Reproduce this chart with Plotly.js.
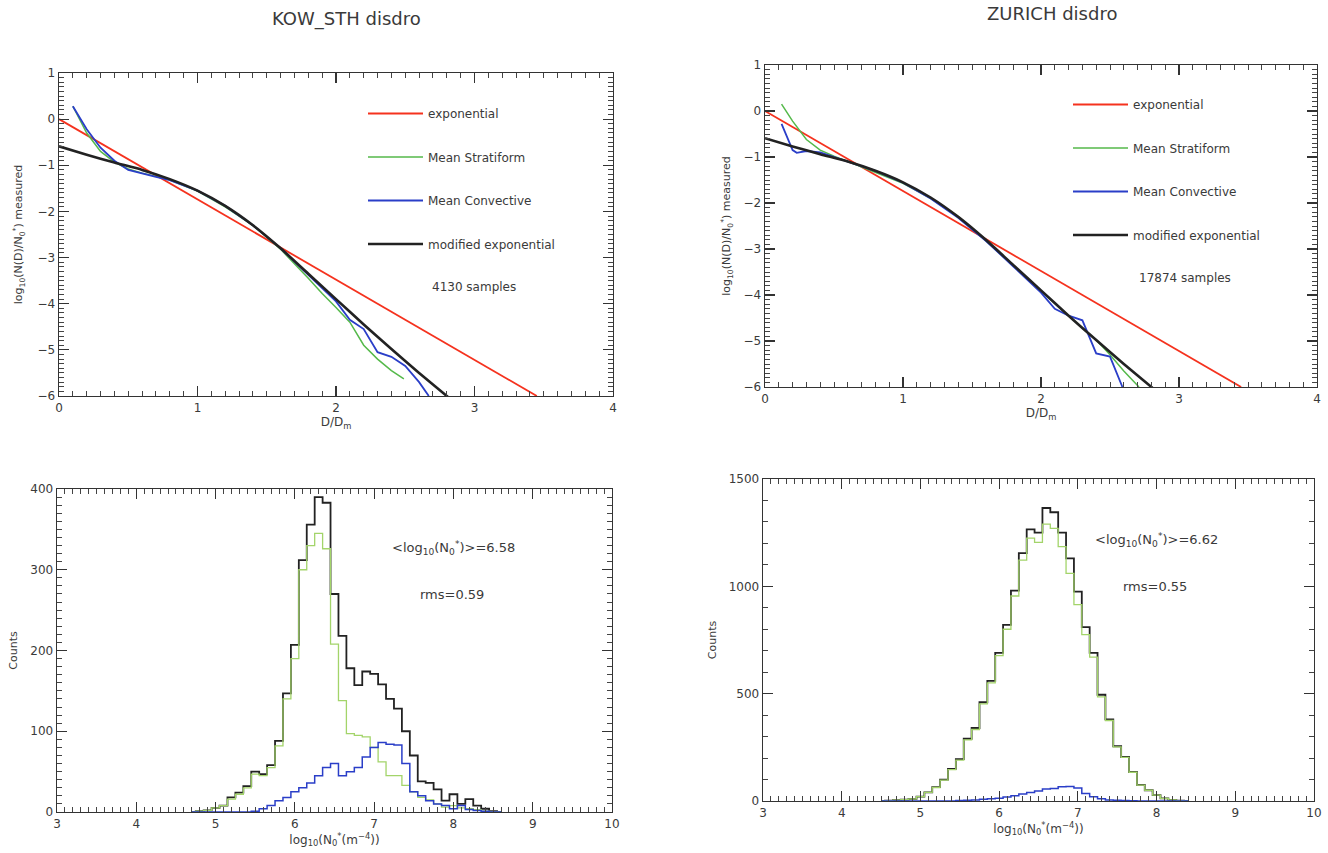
<!DOCTYPE html>
<html>
<head>
<meta charset="utf-8">
<script src="https://cdn.plot.ly/plotly-3.0.1.min.js"></script>
<style>
  html, body { margin: 0; padding: 0; background: #fff; }
  #plot { width: 1328px; height: 853px; }
</style>
</head>
<body>
<div id="plot"></div>
<script>
// ---------- normalised DSD shapes (log10 N(D)/N0* versus D/Dm) ----------
const expX = [0, 1, 2, 3.45];
const expY = [0, -1.74, -3.47, -6];

const modX = [0, 0.2, 0.4, 0.6, 0.8, 1.0, 1.2, 1.4, 1.6, 1.8, 2.0, 2.2, 2.4, 2.6, 2.8, 2.9];
const modY = [-0.59, -0.77, -0.94, -1.1, -1.3, -1.55, -1.88, -2.3, -2.8, -3.35, -3.9, -4.45, -4.98, -5.5, -6.0, -6.25];

// KOW_STH disdrometer
const kowStratX = [0.1, 0.2, 0.3, 0.4, 0.5, 0.6, 0.7, 0.8, 1.0, 1.2, 1.4, 1.6, 1.8, 1.9, 2.0, 2.1, 2.2, 2.3, 2.4, 2.49];
const kowStratY = [0.28, -0.3, -0.7, -0.93, -1.08, -1.17, -1.24, -1.32, -1.56, -1.9, -2.3, -2.82, -3.45, -3.78, -4.08, -4.4, -4.9, -5.2, -5.45, -5.63];
const kowConvX = [0.1, 0.2, 0.3, 0.4, 0.5, 0.6, 0.7, 0.8, 1.0, 1.2, 1.4, 1.6, 1.8, 1.9, 2.0, 2.1, 2.2, 2.3, 2.4, 2.5, 2.6, 2.67];
const kowConvY = [0.28, -0.22, -0.62, -0.9, -1.1, -1.18, -1.25, -1.32, -1.55, -1.88, -2.3, -2.8, -3.38, -3.68, -3.95, -4.35, -4.55, -5.05, -5.15, -5.35, -5.7, -6.0];

// ZURICH disdrometer
const zurStratX = [0.12, 0.2, 0.3, 0.4, 0.5, 0.6, 0.75, 0.9, 1.0, 1.2, 1.4, 1.6, 1.8, 2.0, 2.2, 2.3, 2.4, 2.5, 2.6, 2.71];
const zurStratY = [0.15, -0.22, -0.62, -0.85, -0.98, -1.1, -1.27, -1.45, -1.57, -1.9, -2.3, -2.82, -3.38, -3.92, -4.45, -4.72, -4.98, -5.3, -5.65, -6.0];
const zurConvX = [0.12, 0.2, 0.23, 0.3, 0.4, 0.5, 0.6, 0.8, 1.0, 1.2, 1.4, 1.6, 1.8, 1.9, 2.0, 2.1, 2.2, 2.3, 2.4, 2.5, 2.55, 2.59];
const zurConvY = [-0.28, -0.85, -0.91, -0.87, -0.9, -1.0, -1.1, -1.3, -1.56, -1.9, -2.32, -2.82, -3.38, -3.66, -3.95, -4.3, -4.45, -4.55, -5.27, -5.34, -5.7, -6.0];

const kowSamples = 4130;
const zurSamples = 17874;

// ---------- histograms of log10(N0*) : bin centres and counts ----------
const kowBins = [4.7, 4.8, 4.9, 5.0, 5.1, 5.2, 5.3, 5.4, 5.5, 5.6, 5.7, 5.8, 5.9, 6.0, 6.1, 6.2, 6.3, 6.4, 6.5, 6.6, 6.7, 6.8, 6.9, 7.0, 7.1, 7.2, 7.3, 7.4, 7.5, 7.6, 7.7, 7.8, 7.9, 8.0, 8.1, 8.2, 8.3, 8.4, 8.5, 8.6];
const kowAll   = [0, 1, 2, 5, 8, 18, 24, 32, 50, 47, 58, 88, 147, 207, 312, 356, 390, 383, 270, 218, 178, 157, 174, 171, 158, 140, 128, 100, 70, 38, 36, 28, 14, 22, 10, 16, 8, 4, 1, 0];
const kowStrat = [0, 1, 2, 5, 8, 16, 22, 30, 47, 45, 55, 82, 140, 190, 300, 330, 345, 326, 208, 138, 97, 95, 93, 80, 62, 45, 45, 33, 25, 18, 15, 10, 6, 8, 5, 4, 3, 1, 0, 0];
const kowConv  = [0, 0, 0, 0, 0, 0, 0, 0, 1, 4, 8, 14, 18, 25, 30, 36, 45, 55, 60, 45, 50, 55, 68, 80, 86, 84, 83, 60, 25, 20, 14, 10, 8, 4, 8, 3, 2, 1, 0, 0];
const kowMean = '6.58';
const kowRms = '0.59';

const zurBins = [4.5, 4.6, 4.7, 4.8, 4.9, 5.0, 5.1, 5.2, 5.3, 5.4, 5.5, 5.6, 5.7, 5.8, 5.9, 6.0, 6.1, 6.2, 6.3, 6.4, 6.5, 6.6, 6.7, 6.8, 6.9, 7.0, 7.1, 7.2, 7.3, 7.4, 7.5, 7.6, 7.7, 7.8, 7.9, 8.0, 8.1, 8.2, 8.3, 8.4];
const zurAll   = [0, 2, 4, 6, 10, 20, 40, 65, 100, 150, 195, 290, 340, 460, 560, 690, 820, 980, 1155, 1265, 1250, 1365, 1345, 1250, 1130, 975, 810, 690, 495, 380, 255, 205, 135, 75, 50, 27, 12, 5, 2, 0];
const zurStrat = [0, 2, 4, 6, 10, 20, 40, 63, 97, 146, 190, 285, 333, 452, 550, 677, 800, 955, 1122, 1225, 1205, 1290, 1270, 1185, 1060, 915, 775, 670, 485, 375, 252, 203, 134, 74, 50, 27, 12, 5, 2, 0];
const zurConv  = [0, 0, 0, 0, 0, 0, 0, 0, 0, 0, 2, 3, 5, 8, 10, 13, 19, 25, 33, 40, 47, 56, 58, 66, 67, 60, 35, 20, 10, 5, 3, 2, 1, 0, 0, 0, 0, 0, 0, 0];
const zurMean = '6.62';
const zurRms = '0.55';

// ---------- styling ----------
const C_EXP = '#f5321e';
const C_STRAT = '#55b94a';
const C_CONV = '#2a3ec8';
const C_MOD = '#222222';
const C_HSTRAT = '#a3d46a';
const FONT = 'DejaVu Sans, Liberation Sans, sans-serif';
const INK = '#3a3a3a';

const W = 1328, H = 853;
const px = v => v / W;
const py = v => 1 - v / H;

function line(x, y, color, name, xa, ya, legend, width, smooth) {
  return {
    type: 'scatter', mode: 'lines', x: x, y: y, name: name,
    xaxis: xa, yaxis: ya, legend: legend, legendgroup: legend + name,
    line: smooth ? { color: color, width: width || 1.8, shape: 'spline', smoothing: 0.6 }
                 : { color: color, width: width || 1.8 },
    hoverinfo: 'skip'
  };
}
function step(x, y, color, xa, ya, width) {
  return {
    type: 'scatter', mode: 'lines', x: x, y: y, showlegend: false,
    xaxis: xa, yaxis: ya,
    line: { color: color, width: width || 1.5, shape: 'hvh' },
    hoverinfo: 'skip'
  };
}

const traces = [
  line(expX, expY, C_EXP, 'exponential', 'x', 'y', 'legend', 1.8),
  line(kowStratX, kowStratY, C_STRAT, 'Mean Stratiform', 'x', 'y', 'legend', 1.5),
  line(kowConvX, kowConvY, C_CONV, 'Mean Convective', 'x', 'y', 'legend', 1.8),
  line(modX, modY, C_MOD, 'modified exponential', 'x', 'y', 'legend', 2.6, true),

  line(expX, expY, C_EXP, 'exponential', 'x2', 'y2', 'legend2', 1.8),
  line(zurStratX, zurStratY, C_STRAT, 'Mean Stratiform', 'x2', 'y2', 'legend2', 1.5),
  line(zurConvX, zurConvY, C_CONV, 'Mean Convective', 'x2', 'y2', 'legend2', 1.8),
  line(modX, modY, C_MOD, 'modified exponential', 'x2', 'y2', 'legend2', 2.6, true),

  step(kowBins, kowAll, C_MOD, 'x3', 'y3', 1.8),
  step(kowBins, kowStrat, C_HSTRAT, 'x3', 'y3', 1.3),
  step(kowBins, kowConv, C_CONV, 'x3', 'y3', 1.5),

  step(zurBins, zurAll, C_MOD, 'x4', 'y4', 1.8),
  step(zurBins, zurStrat, C_HSTRAT, 'x4', 'y4', 1.3),
  step(zurBins, zurConv, C_CONV, 'x4', 'y4', 1.5)
];

function axis(domain, range, dtick, minor, anchor, title, standoff, titleSize) {
  return {
    domain: domain, range: range, anchor: anchor,
    showline: true, linecolor: '#333', linewidth: 1.4, mirror: 'ticks',
    ticks: 'inside', ticklen: 10, tickwidth: 1.2, tickcolor: '#333',
    dtick: dtick, tick0: 0,
    minor: { ticks: 'inside', ticklen: 5, tickwidth: 1, tickcolor: '#444', dtick: minor, showgrid: false },
    showgrid: false, zeroline: false, fixedrange: true,
    tickfont: { family: FONT, size: 12, color: INK },
    title: { text: title, font: { family: FONT, size: titleSize || 11, color: INK }, standoff: standoff }
  };
}

const yTitleTop = 'log<sub>10</sub>(N(D)/N<sub>0</sub><sup>*</sup>) measured';
const xTitleHist = 'log<sub>10</sub>(N<sub>0</sub><sup>*</sup>(m<sup>\u22124</sup>))';
const legendBase = {
  xanchor: 'left', yanchor: 'top', itemwidth: 55,
  bgcolor: 'rgba(0,0,0,0)', borderwidth: 0,
  traceorder: 'grouped', tracegroupgap: 24.5,
  font: { family: FONT, size: 12, color: INK }
};

function note(text, x, y, size) {
  return { text: text, xref: 'paper', yref: 'paper', x: px(x), y: py(y),
           xanchor: 'center', yanchor: 'middle', showarrow: false,
           font: { family: FONT, size: size, color: INK } };
}

const layout = {
  width: W, height: H,
  margin: { l: 0, r: 0, t: 0, b: 0 },
  paper_bgcolor: '#ffffff', plot_bgcolor: '#ffffff',
  font: { family: FONT, color: INK },

  xaxis:  axis([px(59), px(613)], [0, 4], 1, 0.1, 'y', 'D/D<sub>m</sub>', 4, 12),
  yaxis:  axis([py(396), py(73)], [-6, 1], 1, 0.1, 'x', yTitleTop, 12),
  xaxis2: axis([px(765), px(1317)], [0, 4], 1, 0.1, 'y2', 'D/D<sub>m</sub>', 4, 12),
  yaxis2: axis([py(387), py(65)], [-6, 1], 1, 0.1, 'x2', yTitleTop, 10),
  xaxis3: axis([px(57), px(612)], [3, 10], 1, 0.1, 'y3', xTitleHist, 4, 12),
  yaxis3: axis([py(812), py(489)], [0, 400], 100, 10, 'x3', 'Counts', 10),
  xaxis4: axis([px(763), px(1314)], [3, 10], 1, 0.1, 'y4', xTitleHist, 4, 12),
  yaxis4: axis([py(801), py(479)], [0, 1500], 500, 100, 'x4', 'Counts', 10),

  legend:  Object.assign({}, legendBase, { x: px(363), y: py(99) }),
  legend2: Object.assign({}, legendBase, { x: px(1068), y: py(90) }),

  annotations: [
    note('KOW_STH disdro', 346, 19, 18),
    note('ZURICH disdro', 1052, 13, 18),
    Object.assign(note(kowSamples + ' samples', 430, 287, 12), { xanchor: 'left' }),
    Object.assign(note(zurSamples + ' samples', 1137, 278, 12), { xanchor: 'left' }),
    note('&lt;log<sub>10</sub>(N<sub>0</sub><sup>*</sup>)&gt;=' + kowMean, 453, 548, 13),
    note('rms=' + kowRms, 452, 594, 13),
    note('&lt;log<sub>10</sub>(N<sub>0</sub><sup>*</sup>)&gt;=' + zurMean, 1156, 540, 13),
    note('rms=' + zurRms, 1155, 586, 13)
  ]
};

Plotly.newPlot('plot', traces, layout, { staticPlot: true, displayModeBar: false });
</script>
</body>
</html>
